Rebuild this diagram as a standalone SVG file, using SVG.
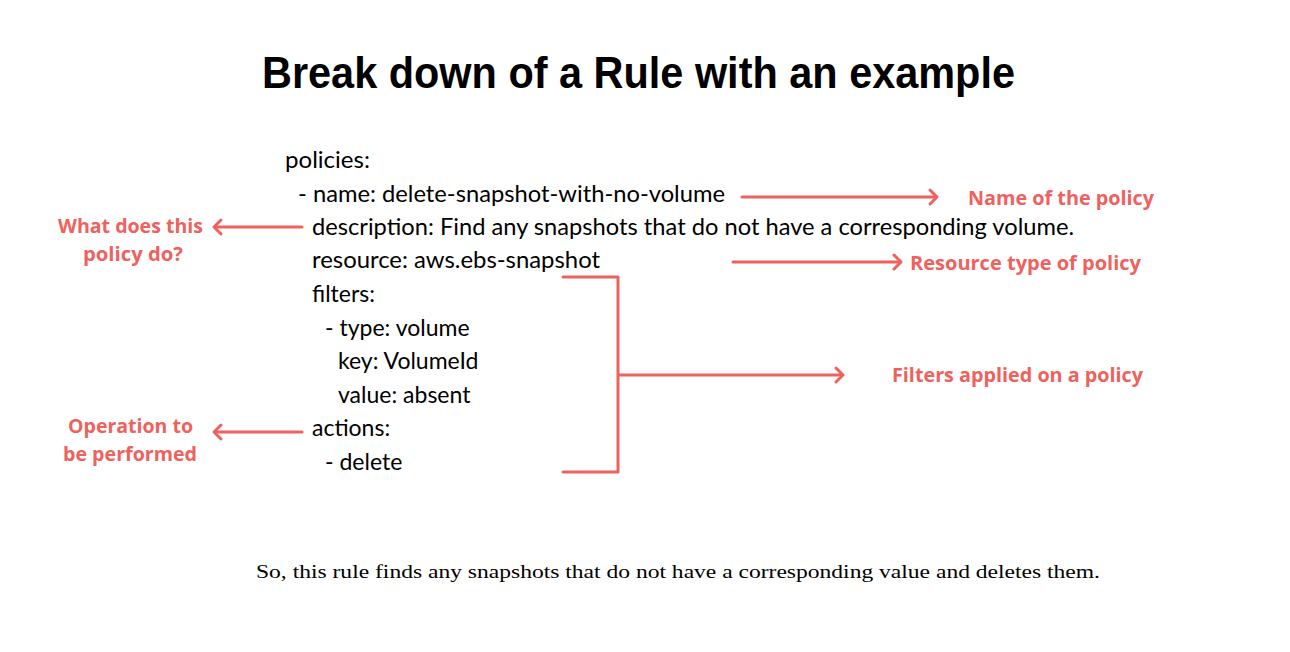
<svg xmlns="http://www.w3.org/2000/svg" width="1290" height="652" viewBox="0 0 1290 652">
<defs>
<style>
.title{font-family:"Liberation Sans",Arial,sans-serif;font-weight:bold;font-size:44px;fill:#000}
.code{font-family:Lato,"Liberation Sans",sans-serif;font-size:23px;fill:#000}
.lbl{font-family:"Open Sans","Liberation Sans",sans-serif;font-weight:bold;font-size:19px;fill:#EF615C}
.foot{font-family:"Liberation Serif","Times New Roman",serif;font-size:19px;fill:#000}
.arr{stroke:#EF615C;stroke-width:3;fill:none;stroke-linecap:round;stroke-linejoin:round}
</style>
<marker id="ah" markerUnits="userSpaceOnUse" markerWidth="20" markerHeight="20" refX="10" refY="10" orient="auto">
<path d="M4,3 L11,10 L4,17" fill="none" stroke="#EF615C" stroke-width="3" stroke-linecap="round" stroke-linejoin="round"/>
</marker>
</defs>
<rect width="1290" height="652" fill="#fff"/>
<text class="title" x="262" y="88" textLength="753" lengthAdjust="spacingAndGlyphs">Break down of a Rule with an example</text>
<g id="code">
<text class="code" x="285" y="168" textLength="85" lengthAdjust="spacingAndGlyphs">policies:</text>
<text class="code" x="298" y="202" textLength="427" lengthAdjust="spacingAndGlyphs">- name: delete-snapshot-with-no-volume</text>
<text class="code" x="312" y="235" textLength="762" lengthAdjust="spacingAndGlyphs">description: Find any snapshots that do not have a corresponding volume.</text>
<text class="code" x="312" y="268" textLength="288" lengthAdjust="spacingAndGlyphs">resource: aws.ebs-snapshot</text>
<text class="code" x="312" y="302">filters:</text>
<text class="code" x="325" y="336">- type: volume</text>
<text class="code" x="338" y="369">key: VolumeId</text>
<text class="code" x="338" y="403">value: absent</text>
<text class="code" x="312" y="436">actions:</text>
<text class="code" x="325" y="470">- delete</text>
</g>
<g id="label-name"><text class="lbl" x="968" y="205" textLength="186" lengthAdjust="spacingAndGlyphs">Name of the policy</text></g>
<g id="label-resource"><text class="lbl" x="910" y="270" textLength="231" lengthAdjust="spacingAndGlyphs">Resource type of policy</text></g>
<g id="label-filters"><text class="lbl" x="892" y="382" textLength="251" lengthAdjust="spacingAndGlyphs">Filters applied on a policy</text></g>
<g id="label-description">
<text class="lbl" x="58" y="233" textLength="145" lengthAdjust="spacingAndGlyphs">What does this</text>
<text class="lbl" x="83" y="261" textLength="100" lengthAdjust="spacingAndGlyphs">policy do?</text>
</g>
<g id="label-actions">
<text class="lbl" x="68" y="433" textLength="125" lengthAdjust="spacingAndGlyphs">Operation to</text>
<text class="lbl" x="63" y="461" textLength="134" lengthAdjust="spacingAndGlyphs">be performed</text>
</g>
<g id="connectors">
<line class="arr" x1="742" y1="197" x2="936" y2="197" marker-end="url(#ah)"/>
<line class="arr" x1="302" y1="227" x2="215" y2="227" marker-end="url(#ah)"/>
<line class="arr" x1="733" y1="262" x2="900" y2="262" marker-end="url(#ah)"/>
<path class="arr" d="M563,277 H618 V472 H563"/>
<line class="arr" x1="620" y1="375" x2="842" y2="375" marker-end="url(#ah)"/>
<line class="arr" x1="302" y1="432" x2="215" y2="432" marker-end="url(#ah)"/>
</g>
<text class="foot" x="256" y="578" textLength="844" lengthAdjust="spacingAndGlyphs">So, this rule finds any snapshots that do not have a corresponding value and deletes them.</text>
</svg>
